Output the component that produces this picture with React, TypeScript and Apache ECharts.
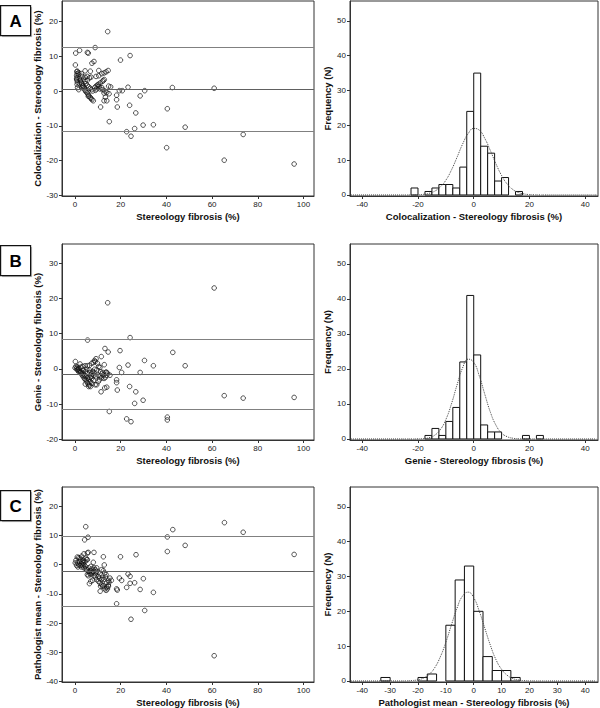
import React, { useEffect, useRef } from "react";
import * as echarts from "echarts";

// ---------- Scatter data (Bland-Altman style): [stereology fibrosis %, difference %] ----------
const scatterA: [number, number][] = [
  [14.3, 17.1], [0.3, 10.9], [2.0, 11.7], [5.4, 11.1], [5.8, 10.9], [8.8, 12.5], [19.9, 8.9], [24.1, 10.2],
  [0.15, 7.5], [7.4, 8.0], [8.3, 8.5], [10.4, 5.9], [14.5, 5.9], [4.4, 5.8], [1.0, 5.7], [1.6, 5.3],
  [6.7, 5.7], [11.7, 5.0], [12.7, 5.2], [13.6, 5.5], [9.2, 4.2], [10.4, 4.4], [4.4, 4.0], [5.4, 4.2],
  [7.0, 4.0], [11.0, 2.3], [12.0, 2.8], [12.8, 3.3], [12.4, 3.0], [10.2, 1.9], [14.7, 1.4], [15.6, 1.2],
  [23.2, 1.1], [42.6, 1.0], [60.9, 0.8], [19.4, 0.1], [20.7, 0.1], [30.5, 0.1], [13.1, 0.0], [13.9, -0.4],
  [12.7, -0.6], [14.9, -0.8], [28.5, -1.4], [18.2, -1.2], [18.2, -2.5], [13.3, -1.8], [12.7, -2.8], [13.9, -2.8],
  [23.9, -4.1], [11.2, -4.6], [18.5, -4.6], [40.4, -5.1], [26.6, -6.3], [15.0, -8.8], [29.8, -9.8], [34.3, -9.7],
  [48.2, -10.4], [26.1, -10.8], [22.6, -11.7], [24.5, -13.0], [73.6, -12.5], [40.1, -16.3], [65.3, -19.9], [95.9, -21.0],
  [0.8, 5.6], [0.9, 5.0], [0.7, 4.4], [0.9, 3.8], [0.8, 3.2], [1.0, 2.6], [0.9, 1.9], [1.1, 1.0],
  [1.9, 3.6], [2.3, 3.1], [2.6, 2.6], [2.9, 2.1], [3.2, 1.7], [3.5, 1.4], [3.8, 1.0], [4.1, 0.6],
  [4.4, 0.2], [4.8, -0.2], [5.3, -0.5], [5.7, -0.9], [6.1, -1.4], [6.6, -1.8], [7.0, -2.1], [7.4, -2.5],
  [8.0, -2.8], [2.8, 5.0], [3.1, 4.2], [3.6, 3.4], [4.4, 2.8], [4.8, 2.1], [5.4, 1.6], [6.0, 1.2],
  [6.6, 0.8], [7.2, 0.4], [7.7, 0.0], [5.8, -1.5], [8.6, 1.0], [9.2, 1.4], [9.8, 1.7], [10.5, 1.4],
  [8.9, 0.2], [9.5, 0.6], [10.9, 0.6], [11.7, 1.0], [12.1, 0.4], [1.6, 4.8], [0.7, 3.5], [1.9, 2.1],
  [3.1, 1.0], [1.6, 0.4], [6.3, 3.8], [5.4, 3.1],
];

const scatterB: [number, number][] = [
  [60.9, 23.0], [14.3, 18.8], [5.5, 8.2], [24.1, 8.9], [42.8, 4.7], [13.1, 5.8], [14.5, 4.8], [19.7, 5.2],
  [30.4, 2.4], [11.5, 3.5], [9.2, 2.9], [8.5, 2.4], [12.8, 1.2], [23.2, 1.1], [34.3, 0.9], [48.2, 0.9],
  [19.4, 0.4], [0.15, 2.1], [2.2, 1.4], [1.0, 0.5], [0.0, 0.3], [20.4, -1.0], [28.5, -1.0], [15.3, -1.8],
  [14.2, -1.2], [13.6, -0.9], [18.2, -3.1], [18.2, -3.9], [23.9, -5.0], [18.5, -6.0], [26.6, -6.5], [11.4, -6.5],
  [13.0, -5.4], [13.9, -5.2], [65.3, -7.6], [73.6, -8.3], [95.9, -8.1], [29.8, -8.9], [26.1, -9.8], [15.0, -12.1],
  [22.6, -14.2], [24.5, -15.0], [40.4, -13.7], [40.4, -14.5],
  [1.0, -0.3], [1.6, -0.8], [2.2, -1.0], [2.8, -1.4], [3.2, -1.8], [3.6, -2.2], [4.1, -2.7], [4.5, -3.0],
  [5.0, -3.4], [5.4, -3.9], [5.8, -4.3], [6.3, -4.6], [6.0, -5.0], [1.6, 0.2], [2.5, 0.5], [3.4, 0.7],
  [4.4, 0.9], [5.4, 0.9], [6.3, 1.0], [7.3, 1.6], [8.0, 1.8], [8.8, 2.1], [9.8, 1.6], [10.4, 0.7],
  [10.9, 0.4], [3.6, -0.3], [4.5, -0.8], [5.4, -1.2], [6.6, -1.0], [7.4, -1.4], [8.3, -1.8], [9.2, -2.2],
  [10.1, -1.8], [10.9, -2.2], [11.7, -1.4], [12.4, -1.8], [11.7, -2.5], [12.7, -2.7], [13.3, -2.4], [7.3, -2.7],
  [8.0, -3.3], [6.6, -3.6], [8.8, -4.5], [9.5, -4.5], [10.2, -3.6], [10.7, -3.1], [7.4, -4.1], [6.8, -5.0],
  [8.6, -0.1], [9.5, -0.3], [5.1, -0.1], [0.4, 0.7], [0.7, 0.1], [1.3, -0.1], [1.9, -0.5], [2.5, -0.9],
  [3.1, -1.0], [3.6, -1.4], [4.2, -1.8], [4.8, -2.2], [5.4, -2.6], [6.0, -2.9], [6.6, -2.4], [7.2, -2.0],
  [7.7, -0.7], [8.3, -1.0], [6.3, -0.3], [11.2, -0.8], [12.1, -1.0], [13.6, -1.0], [13.9, -1.8], [4.5, -4.3],
];

const scatterC: [number, number][] = [
  [4.7, 13.0], [65.4, 14.4], [73.6, 11.1], [42.8, 12.0], [40.4, 9.5], [5.7, 9.4], [4.2, 8.5], [48.2, 6.6],
  [40.4, 4.5], [95.9, 3.5], [26.7, 3.4], [19.9, 2.7], [12.4, 2.7], [5.8, 4.2], [5.4, 4.0], [8.3, 4.2],
  [3.9, 3.7], [2.9, 2.9], [1.0, 2.6], [1.6, 2.4], [2.2, 2.3], [8.0, 0.8], [12.8, -0.1], [5.1, 1.7],
  [3.6, 1.5], [29.9, -4.8], [19.4, -4.6], [20.4, -5.4], [23.2, -3.2], [24.1, -4.0], [24.1, -6.4], [26.1, -6.2],
  [22.6, -7.8], [28.5, -8.5], [18.2, -8.3], [18.5, -8.7], [34.3, -9.5], [18.2, -13.4], [30.5, -15.7], [24.5, -18.7],
  [60.9, -31.2], [14.9, -6.0], [14.6, -7.0], [13.9, -7.7], [13.1, -8.3], [11.0, -9.1], [12.1, -7.4],
  [0.4, 1.5], [1.0, 0.6], [1.6, 0.0], [2.2, -0.3], [2.8, -0.8], [3.4, -0.3], [3.9, -1.1], [4.5, -0.6],
  [0.7, -0.3], [1.3, -0.8], [0.1, 0.6], [5.1, -1.7], [5.7, -2.3], [6.3, -2.9], [6.9, -3.4], [7.4, -2.9],
  [8.0, -2.3], [8.8, -1.7], [9.5, -2.3], [10.2, -2.6], [10.9, -3.1], [5.4, -3.4], [5.8, -3.8], [6.6, -2.3],
  [7.3, -1.5], [8.3, -1.1], [9.5, -1.1], [11.7, -1.7], [12.4, -2.1], [13.0, -2.9], [13.6, -3.4], [6.3, -6.5],
  [6.9, -5.7], [7.7, -5.4], [9.5, -5.1], [10.2, -5.7], [10.9, -6.3], [11.7, -6.9], [12.4, -7.2], [11.2, -7.4],
  [13.9, -6.1], [14.6, -5.4], [15.3, -4.6], [15.9, -5.4], [13.3, -4.2], [12.1, -4.6], [12.7, -5.1], [8.9, -4.2],
  [8.3, -3.8], [10.2, -4.0], [14.2, -8.3], [13.6, -8.8], [14.6, -7.4], [2.5, 1.7], [3.1, 1.0], [3.6, 0.6],
  [4.4, 1.1], [4.8, 2.2], [5.4, 1.7], [1.9, 1.1], [2.8, 0.3], [3.9, 0.0], [4.8, -1.5], [6.0, -1.1],
  [6.9, -0.6], [7.7, -2.6], [8.9, -3.1], [10.7, -4.7], [11.5, -5.1],
];

// Mean difference and limits of agreement (upper, mean, lower)
const limitsA = [12.5, 0.5, -11.5];
const limitsB = [8.5, -1.5, -11.5];
const limitsC = [9.8, -2.3, -14.4];

// ---------- Histogram data ----------
const binStartsA = [-22.5, -17.5, -15, -12.5, -10, -7.5, -5, -2.5, 0, 2.5, 5, 7.5, 10, 15];
const countsA = [2, 1, 2, 3, 3, 2, 8, 24, 35, 14, 12, 4, 5, 1];
const binWidthA = 2.5;

const binStartsB = [-17.5, -15, -12.5, -10, -7.5, -5, -2.5, 0, 2.5, 5, 7.5, 17.5, 22.5];
const countsB = [1, 3, 1, 5, 9, 22, 41, 24, 4, 2, 2, 1, 1];
const binWidthB = 2.5;

const binStartsC = [-33.333, -20, -16.667, -10, -6.667, -3.333, 0, 3.333, 6.667, 10, 13.333];
const countsC = [1, 1, 2, 16, 29, 33, 20, 7, 3, 3, 1];
const binWidthC = 3.333;

// Normal curves
const curveX = [-44, -26, -24, -22, -20, -18, -16, -14, -12, -10, -8, -6, -4, -2, 0, 2, 4, 6, 8, 10, 12, 14, 16, 18, 20, 22, 24, 26, 44];
const curveYA = [0, 0, 0.01, 0.02, 0.06, 0.18, 0.47, 1.09, 2.28, 4.24, 7.16, 10.8, 14.6, 17.6, 19.1, 18.6, 16.2, 12.7, 8.9, 5.6, 3.15, 1.59, 0.72, 0.29, 0.11, 0.04, 0.01, 0, 0];
const curveYB = [0, 0, 0, 0, 0.03, 0.11, 0.37, 1.07, 2.64, 5.55, 10.0, 15.4, 20.3, 22.8, 21.9, 18.0, 12.7, 7.6, 3.9, 1.7, 0.65, 0.21, 0.06, 0.01, 0, 0, 0, 0, 0];
const curveYC = [0, 0.01, 0.04, 0.12, 0.34, 0.84, 1.89, 3.8, 6.9, 11.1, 16.1, 20.9, 24.4, 25.5, 23.9, 20.0, 15.1, 10.2, 6.1, 3.35, 1.63, 0.71, 0.28, 0.1, 0.03, 0.01, 0, 0, 0];

// ---------- Axis ticks / names ----------
const scatterXTicks = [0, 20, 40, 60, 80, 100];
const scatterYTicksA = [-30, -20, -10, 0, 10, 20];
const scatterYTicksB = [-20, -10, 0, 10, 20, 30];
const scatterYTicksC = [-40, -30, -20, -10, 0, 10, 20];
const histXTicksAB = [-40, -20, 0, 20, 40];
const histXTicksC = [-40, -30, -20, -10, 0, 10, 20, 30, 40];
const histYTicks = [0, 10, 20, 30, 40, 50];

const scatterXName = "Stereology fibrosis (%)";
const scatterYNames = [
  "Colocalization - Stereology fibrosis (%)",
  "Genie - Stereology fibrosis (%)",
  "Pathologist mean - Stereology fibrosis (%)",
];
const histXNames = [
  "Colocalization - Stereology fibrosis (%)",
  "Genie - Stereology fibrosis (%)",
  "Pathologist mean - Stereology fibrosis (%)",
];
const histYName = "Frequency (N)";
const panelLetters = ["A", "B", "C"];

const FONT = "'Liberation Sans', Arial, sans-serif";
const AXIS_COLOR = "#333";

function valueAxis(gridIndex: number, min: number, max: number, ticks: number[], name: string, nameGap: number, isY: boolean) {
  return {
    type: "value",
    gridIndex,
    min,
    max,
    name,
    nameLocation: "middle",
    nameGap,
    nameTextStyle: { fontFamily: FONT, fontWeight: "bold", fontSize: 9.5, color: "#111" },
    axisLine: { show: true, onZero: false, lineStyle: { color: AXIS_COLOR, width: 1 } },
    axisTick: { show: true, length: 3, inside: false, customValues: ticks, lineStyle: { color: AXIS_COLOR } },
    axisLabel: {
      show: true,
      customValues: ticks,
      fontFamily: FONT,
      fontSize: 8,
      color: "#222",
      margin: isY ? 4 : 4,
    },
    splitLine: { show: false },
  };
}

export default function App() {
  const ref = useRef<HTMLDivElement>(null);

  useEffect(() => {
    if (!ref.current) return;
    const chart = echarts.init(ref.current, null, { renderer: "svg" });

    const rowTops = [1, 244, 487];
    const rowHeights = [195, 196, 195];
    const scatterSets = [scatterA, scatterB, scatterC];
    const limitSets = [limitsA, limitsB, limitsC];
    const scatterYRanges: [number, number][] = [[-30.2, 25.9], [-20.2, 35.5], [-40.2, 26.6]];
    const scatterYTickSets = [scatterYTicksA, scatterYTicksB, scatterYTicksC];
    const binSets = [binStartsA, binStartsB, binStartsC];
    const countSets = [countsA, countsB, countsC];
    const widthSets = [binWidthA, binWidthB, binWidthC];
    const curveSets = [curveYA, curveYB, curveYC];
    const histXTickSets = [histXTicksAB, histXTicksAB, histXTicksC];

    const grids: any[] = [];
    const xAxes: any[] = [];
    const yAxes: any[] = [];
    const series: any[] = [];
    const graphics: any[] = [];

    for (let r = 0; r < 3; r++) {
      const gs = r * 2;
      const gh = r * 2 + 1;
      grids.push({
        left: 62, top: rowTops[r], width: 252, height: rowHeights[r],
        show: true, borderColor: AXIS_COLOR, borderWidth: 1, backgroundColor: "transparent",
      });
      grids.push({
        left: 350, top: rowTops[r], width: 248, height: rowHeights[r],
        show: true, borderColor: AXIS_COLOR, borderWidth: 1, backgroundColor: "transparent",
      });
      xAxes.push(valueAxis(gs, -5.7, 104.6, scatterXTicks, scatterXName, 15, false));
      yAxes.push(valueAxis(gs, scatterYRanges[r][0], scatterYRanges[r][1], scatterYTickSets[r], scatterYNames[r], 18, true));
      xAxes.push(valueAxis(gh, -44.4, 44.6, histXTickSets[r], histXNames[r], 15, false));
      yAxes.push(valueAxis(gh, -0.3, 55.7, histYTicks, histYName, 18, true));

      const lim = limitSets[r];
      series.push({
        type: "scatter",
        xAxisIndex: gs,
        yAxisIndex: gs,
        data: scatterSets[r],
        symbol: "circle",
        symbolSize: 4.6,
        itemStyle: { color: "rgba(255,255,255,0)", borderColor: "#111", borderWidth: 0.9 },
        markLine: {
          silent: true,
          symbol: ["none", "none"],
          label: { show: false },
          lineStyle: { type: "solid", color: "#808080", width: 1 },
          data: [{ yAxis: lim[0] }, { yAxis: lim[1], lineStyle: { color: "#606060" } }, { yAxis: lim[2] }],
        },
        z: 3,
      });

      const bw = widthSets[r];
      const histData = binSets[r].map((s, i) => [s, s + bw, countSets[r][i]]);
      series.push({
        type: "custom",
        xAxisIndex: gh,
        yAxisIndex: gh,
        data: histData,
        encode: { x: [0, 1], y: 2 },
        renderItem: (_params: any, api: any) => {
          const p0 = api.coord([api.value(0), api.value(2)]);
          const p1 = api.coord([api.value(1), 0]);
          return {
            type: "rect",
            shape: { x: p0[0], y: p0[1], width: p1[0] - p0[0], height: p1[1] - p0[1] },
            style: { fill: "#fff", stroke: "#111", lineWidth: 1 },
          };
        },
        z: 2,
      });

      series.push({
        type: "line",
        xAxisIndex: gh,
        yAxisIndex: gh,
        data: curveX.map((x, i) => [x, curveSets[r][i]]),
        smooth: true,
        showSymbol: false,
        symbol: "none",
        lineStyle: { type: "dotted", color: "#444", width: 1 },
        z: 4,
      });

      const boxTop = [5, 245, 490][r];
      graphics.push({
        type: "group",
        left: 0,
        top: boxTop,
        children: [
          { type: "rect", shape: { x: 2, y: 2, width: 30, height: 30 }, style: { fill: "#bbb" } },
          { type: "rect", shape: { x: 0.5, y: 0.5, width: 30, height: 30 }, style: { fill: "#fff", stroke: "#111", lineWidth: 1.2 } },
          {
            type: "text",
            x: 15.5,
            y: 16,
            style: {
              text: panelLetters[r],
              fontFamily: FONT,
              fontWeight: "bold",
              fontSize: 17,
              fill: "#000",
              align: "center",
              verticalAlign: "middle",
            },
          },
        ],
      });
    }

    chart.setOption({
      animation: false,
      textStyle: { fontFamily: FONT },
      grid: grids,
      xAxis: xAxes,
      yAxis: yAxes,
      series,
      graphic: graphics,
    });

    return () => chart.dispose();
  }, []);

  return (
    <div
      ref={ref}
      style={{ position: "absolute", left: 0, top: 0, width: 600, height: 708, background: "#fff" }}
    />
  );
}
